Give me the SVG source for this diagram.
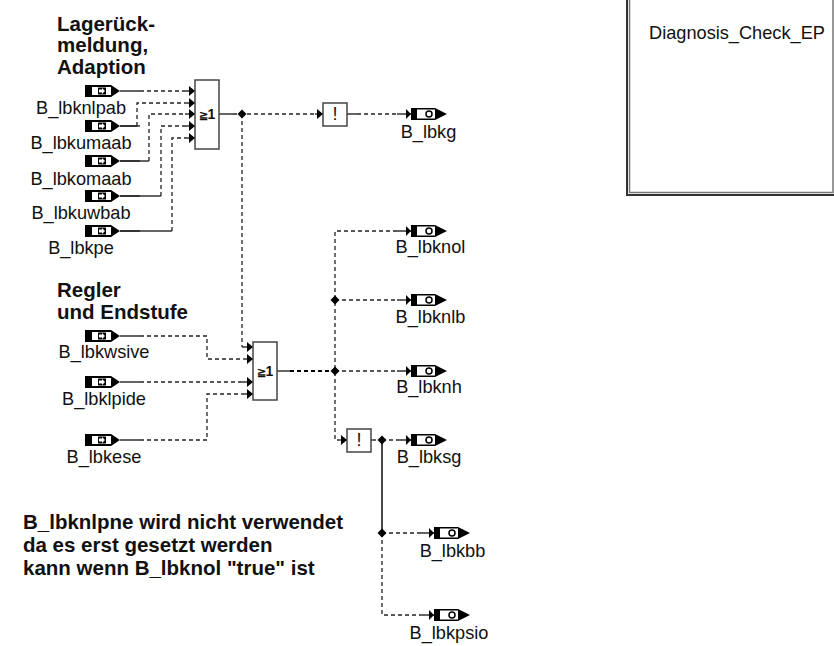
<svg xmlns="http://www.w3.org/2000/svg" width="834" height="646" viewBox="0 0 834 646">
<style>
text{font-family:"Liberation Sans",Arial,sans-serif;font-size:18.2px;fill:#111}
.t{font-weight:bold;font-size:20.5px}
.m{text-anchor:middle}
.d{fill:none;stroke:#222;stroke-width:1.3;stroke-dasharray:4 3}
.s{fill:none;stroke:#333;stroke-width:1.5}
.b{fill:#fff;stroke:#444;stroke-width:1.5}
</style>
<defs>
<g id="in"><path d="M1-6H27L36 0 27 6H1Z" fill="#000"/><rect x="8" y="-4" width="19" height="8" fill="#fff"/><rect x="14" y="-3.500" width="8" height="7" fill="#000"/><path d="M15-1.500H18V-3L21 0 18 3V1.500H15Z" fill="#fff"/><path d="M36-.7H56V.7H36Z" fill="#222"/></g>
<g id="out"><path d="M-14-.7H0V.7H-14Z" fill="#222"/><path d="M-5-5 0 0-5 5Z" fill="#000"/><path d="M0-6H24L36 0 24 6H0Z" fill="#000"/><rect x="6" y="-4.500" width="18" height="9" fill="#fff"/><circle cx="18" cy="0" r="3" fill="none" stroke="#000" stroke-width="1.500"/></g>
<path id="a" d="M-6-5 0 0-6 5Z" fill="#000"/>
<path id="j" d="M-4.500 0 0-4.500 4.500 0 0 4.500Z" fill="#000"/>
</defs>
<g id="connectors">
<path class="s" d="M183 91H195M120 126H137M120 161H149M120 196H161M120 231H172M185 103H195M185 114H195M185 126H195M185 138H195"/>
<path class="d" d="M140 91H183"/>
<path class="d" d="M137 126V103H185"/>
<path class="d" d="M149 161V114H185"/>
<path class="d" d="M161 196V126H185"/>
<path class="d" d="M172 231V138H185"/>
<path class="s" d="M219 114H233"/>
<path class="d" d="M233 114H315"/>
<path class="s" d="M315 114H323M347 114H357"/>
<path class="d" d="M357 114H397"/>
<path class="d" d="M242 114V347"/>
<path class="s" d="M242 347H253M243 359H253M241 382H253M241 394H253"/>
<path class="d" d="M140 336H207V359H243"/>
<path class="d" d="M140 382H241"/>
<path class="d" d="M140 440H207V394H241"/>
<path class="s" d="M277 371H290"/>
<path class="d" d="M290 371H335" style="stroke-width:2;stroke:#000"/>
<path class="d" d="M335 371H397"/>
<path class="d" d="M397 231H335V440H338"/>
<path class="s" d="M338 440H347"/>
<path class="d" d="M335 300H397"/>
<path class="s" d="M371 440H376"/>
<path class="d" d="M382 440H397"/>
<path class="s" d="M382 440V533" style="stroke-width:1.800"/>
<path class="d" d="M382 533H420"/>
<path class="d" d="M382 533V615H420"/>
<use href="#a" x="195" y="91"/><use href="#a" x="195" y="103"/><use href="#a" x="195" y="114"/><use href="#a" x="195" y="126"/><use href="#a" x="195" y="138"/>
<use href="#a" x="253" y="347"/><use href="#a" x="253" y="359"/><use href="#a" x="253" y="382"/><use href="#a" x="253" y="394"/>
<use href="#a" x="323" y="114"/><use href="#a" x="347" y="440"/>
<use href="#j" x="242" y="114"/><use href="#j" x="335" y="300"/><use href="#j" x="335" y="371"/><use href="#j" x="382" y="440"/><use href="#j" x="382" y="533"/>
</g>
<g id="title1"><text class="t" x="57" y="31">Lagerück-</text><text class="t" x="57" y="52">meldung,</text><text class="t" x="57" y="74">Adaption</text></g>
<g id="or1"><rect class="b" x="195" y="80" width="24" height="69"/><text x="207" y="119" class="m" style="font-size:14px;font-weight:bold"><tspan style="font-size:11px">≧</tspan>1</text></g>
<g id="or2"><rect class="b" x="253" y="342" width="24" height="58"/><text x="265" y="376" class="m" style="font-size:14px;font-weight:bold"><tspan style="font-size:11px">≧</tspan>1</text></g>
<g id="not1"><rect class="b" x="323" y="103" width="24" height="23"/><text x="335" y="120" class="m">!</text></g>
<g id="not2"><rect class="b" x="347" y="429" width="24" height="23"/><text x="359" y="446" class="m">!</text></g>
<g id="B_lbknlpab"><use href="#in" x="84" y="91"/><text x="81" y="114" class="m">B_lbknlpab</text></g>
<g id="B_lbkumaab"><use href="#in" x="84" y="126"/><text x="81" y="149" class="m">B_lbkumaab</text></g>
<g id="B_lbkomaab"><use href="#in" x="84" y="161"/><text x="81" y="185" class="m">B_lbkomaab</text></g>
<g id="B_lbkuwbab"><use href="#in" x="84" y="196"/><text x="81" y="219" class="m">B_lbkuwbab</text></g>
<g id="B_lbkpe"><use href="#in" x="84" y="231"/><text x="81" y="254" class="m">B_lbkpe</text></g>
<g id="B_lbkwsive"><use href="#in" x="84" y="336"/><text x="104" y="358" class="m">B_lbkwsive</text></g>
<g id="B_lbklpide"><use href="#in" x="84" y="382"/><text x="104" y="405" class="m">B_lbklpide</text></g>
<g id="B_lbkese"><use href="#in" x="84" y="440"/><text x="104" y="463" class="m">B_lbkese</text></g>
<g id="B_lbkg"><use href="#out" x="411" y="114"/><text x="428.500" y="138" class="m">B_lbkg</text></g>
<g id="B_lbknol"><use href="#out" x="411" y="231"/><text x="430.500" y="253" class="m">B_lbknol</text></g>
<g id="B_lbknlb"><use href="#out" x="411" y="300"/><text x="430.500" y="323" class="m">B_lbknlb</text></g>
<g id="B_lbknh"><use href="#out" x="411" y="371"/><text x="429" y="393" class="m">B_lbknh</text></g>
<g id="B_lbksg"><use href="#out" x="411" y="440"/><text x="429" y="463" class="m">B_lbksg</text></g>
<g id="B_lbkbb"><use href="#out" x="434" y="533"/><text x="452.500" y="557" class="m">B_lbkbb</text></g>
<g id="B_lbkpsio"><use href="#out" x="434" y="615"/><text x="449" y="639" class="m">B_lbkpsio</text></g>
<g id="title2"><text class="t" x="57" y="297">Regler</text><text class="t" x="57" y="319">und Endstufe</text></g>
<g id="note"><text class="t" x="23" y="529">B_lbknlpne wird nicht verwendet</text><text class="t" x="23" y="552">da es erst gesetzt werden</text><text class="t" x="23" y="575">kann wenn B_lbknol "true" ist</text></g>
<g id="diag"><path d="M627-2V195H840" fill="none" stroke="#333" stroke-width="2"/><path d="M629.500-2V192.500H833V-2" fill="none" stroke="#777" stroke-width="1.500"/><text x="649" y="39">Diagnosis_Check_EP</text></g>
</svg>
